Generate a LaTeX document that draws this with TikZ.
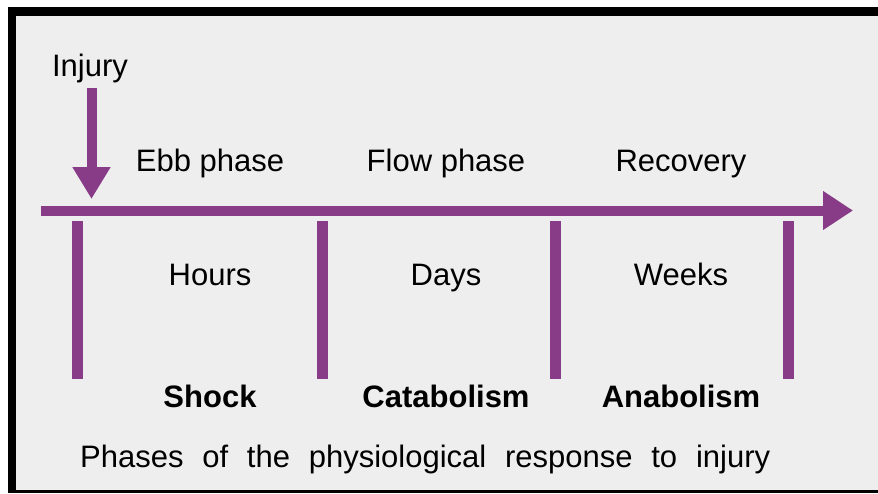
\documentclass[tikz,border=0pt]{standalone}
\usepackage{fontspec}
\setmainfont{Liberation Sans}
\usetikzlibrary{arrows.meta}
\definecolor{purp}{RGB}{136,60,136}
\definecolor{bggray}{RGB}{238,238,238}
\tikzset{
  lbl/.style={inner sep=0pt, anchor=base, font=\fontsize{31}{36}\selectfont, text=black},
  blbl/.style={lbl, font=\fontsize{31}{36}\selectfont\bfseries},
  bar/.style={draw=purp, line width=11pt},
  timeline/.style={draw=purp, line width=10pt, -{Triangle[length=30pt,width=37pt]}},
  injarrow/.style={draw=purp, line width=10pt, -{Triangle[length=32pt,width=36pt]}}
}
\begin{document}
\begin{tikzpicture}[x=1pt,y=-1pt]
\useasboundingbox (0,0) rectangle (878,493);
\fill[white] (0,0) rectangle (878,493);
\fill[black] (8,7) rectangle (878,493);
\fill[bggray] (16,16) rectangle (878,490);
% timeline
\coordinate (tlstart) at (41,210.5);
\coordinate (tlend) at (853,210.5);
\draw[timeline] (tlstart) -- (tlend);
% injury arrow
\node[lbl] (injury) at (90,76) {Injury};
\coordinate (injtop) at (91.5,88);
\coordinate (injtip) at (91.5,199);
\draw[injarrow] (injtop) -- (injtip);
% bars
\coordinate (b1t) at (77,221); \coordinate (b1b) at (77,379);
\coordinate (b2t) at (322.5,221); \coordinate (b2b) at (322.5,379);
\coordinate (b3t) at (555,221); \coordinate (b3b) at (555,379);
\coordinate (b4t) at (788.5,221); \coordinate (b4b) at (788.5,379);
\draw[bar] (b1t) -- (b1b);
\draw[bar] (b2t) -- (b2b);
\draw[bar] (b3t) -- (b3b);
\draw[bar] (b4t) -- (b4b);
% phase labels
\node[lbl] (ebb) at (210,171) {Ebb phase};
\node[lbl] (flow) at (446,171) {Flow phase};
\node[lbl] (rec) at (681,171) {Recovery};
\node[lbl] (hours) at (210,285) {Hours};
\node[lbl] (days) at (446,285) {Days};
\node[lbl] (weeks) at (681,285) {Weeks};
\node[blbl] (shock) at (210,407) {Shock};
\node[blbl] (catab) at (446,407) {Catabolism};
\node[blbl] (anab) at (681,407) {Anabolism};
\node[lbl, anchor=base west] (caption) at (80,467) {\makebox[690pt][s]{Phases of the physiological response to injury}};
\end{tikzpicture}
\end{document}
